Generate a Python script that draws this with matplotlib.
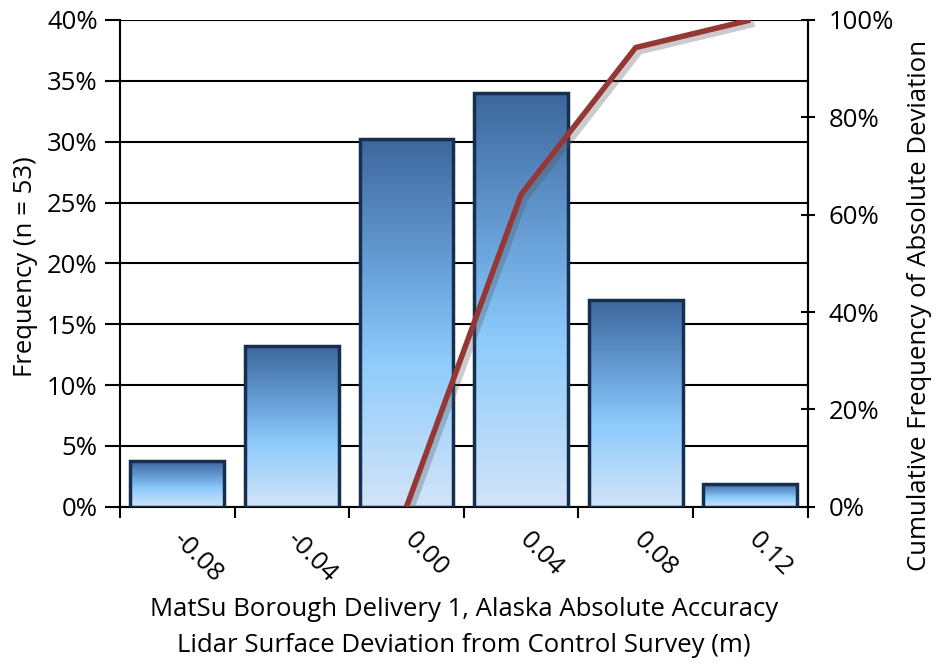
import numpy as np
import matplotlib.pyplot as plt
import matplotlib.patheffects as pe
from matplotlib.colors import LinearSegmentedColormap
from matplotlib.ticker import PercentFormatter, FixedLocator
from matplotlib.transforms import ScaledTranslation

# histogram of lidar deviations (n = 53)
bins = ['-0.08', '-0.04', '0.00', '0.04', '0.08', '0.12']
freq = [3.77, 13.21, 30.19, 33.96, 16.98, 1.89]

# cumulative frequency of absolute deviation
cum_bins = ['0.00', '0.04', '0.08', '0.12']
cum_freq = [0.0, 64.15, 94.34, 100.0]

plt.rcParams['font.family'] = ['Open Sans', 'DejaVu Sans']
plt.rcParams['font.size'] = 18.5

fig = plt.figure(figsize=(9.37, 6.66), dpi=100)
ax = fig.add_axes([0.128, 0.239, 0.734, 0.731])

x = np.arange(len(bins))
bars = ax.bar(x, freq, width=0.82, facecolor='none', edgecolor='#172f4e',
              linewidth=2.5, zorder=3)

# vertical gradient for every bar
cmap = LinearSegmentedColormap.from_list(
    'bluebar', [(0.0, '#d2e4f8'), (0.4, '#8ecbfc'), (0.6, '#6fa8e0'), (1.0, '#3c679c')])
grad = np.linspace(0, 1, 256).reshape(-1, 1)
for b in bars:
    bx, bw, bh = b.get_x(), b.get_width(), b.get_height()
    im = ax.imshow(grad, extent=[bx, bx + bw, 0, bh], origin='lower', cmap=cmap,
                   aspect='auto', zorder=2)
    im.set_clip_path(b)

ax.set_xlim(-0.5, len(bins) - 0.5)
ax.set_ylim(0, 40)
ax.set_yticks(np.arange(0, 41, 5))
ax.yaxis.set_major_formatter(PercentFormatter(decimals=0))
ax.grid(axis='y', color='black', linewidth=1.5)
ax.set_axisbelow(True)

ax.set_xticks(x)
ax.set_xticklabels(bins, rotation=-45, ha='center', va='top')
ax.xaxis.set_minor_locator(FixedLocator(np.arange(-0.5, len(bins), 1)))
ax.tick_params(axis='x', which='major', length=0, pad=15)
ax.tick_params(axis='x', which='minor', length=8, width=1.5, direction='out')
ax.tick_params(axis='y', length=11, width=1.5, direction='out', pad=5)
for lbl in ax.get_xticklabels():
    lbl.set_transform(lbl.get_transform() + ScaledTranslation(0.2, 0, fig.dpi_scale_trans))

for s in ['left', 'bottom', 'right']:
    ax.spines[s].set_linewidth(1.5)
ax.spines['top'].set_visible(False)

ax.set_ylabel('Frequency (n = 53)', va='center')
ax.yaxis.set_label_coords(-0.138, 0.493)
ax.set_xlabel('MatSu Borough Delivery 1, Alaska Absolute Accuracy\n'
              'Lidar Surface Deviation from Control Survey (m)', linespacing=1.6, va='top')
ax.xaxis.set_label_coords(0.5, -0.185)

ax2 = ax.twinx()
cx = [bins.index(b) for b in cum_bins]
ax2.plot(cx, cum_freq, color='#953735', linewidth=4, solid_capstyle='butt', zorder=5,
         path_effects=[pe.SimpleLineShadow(offset=(3, -3), shadow_color='#555555', alpha=0.3),
                       pe.Normal()])
ax2.set_ylim(0, 100)
ax2.set_yticks(np.arange(0, 101, 20))
ax2.yaxis.set_major_formatter(PercentFormatter(decimals=0))
ax2.tick_params(axis='y', length=10, width=1.5, direction='inout', pad=10)
for s in ax2.spines.values():
    s.set_visible(False)
ax2.spines['right'].set_visible(True)
ax2.spines['right'].set_linewidth(1.5)
ax2.set_ylabel('Cumulative Frequency of Absolute Deviation', va='center')
ax2.yaxis.set_label_coords(1.163, 0.413)

fig.savefig('out.png', dpi=100)
